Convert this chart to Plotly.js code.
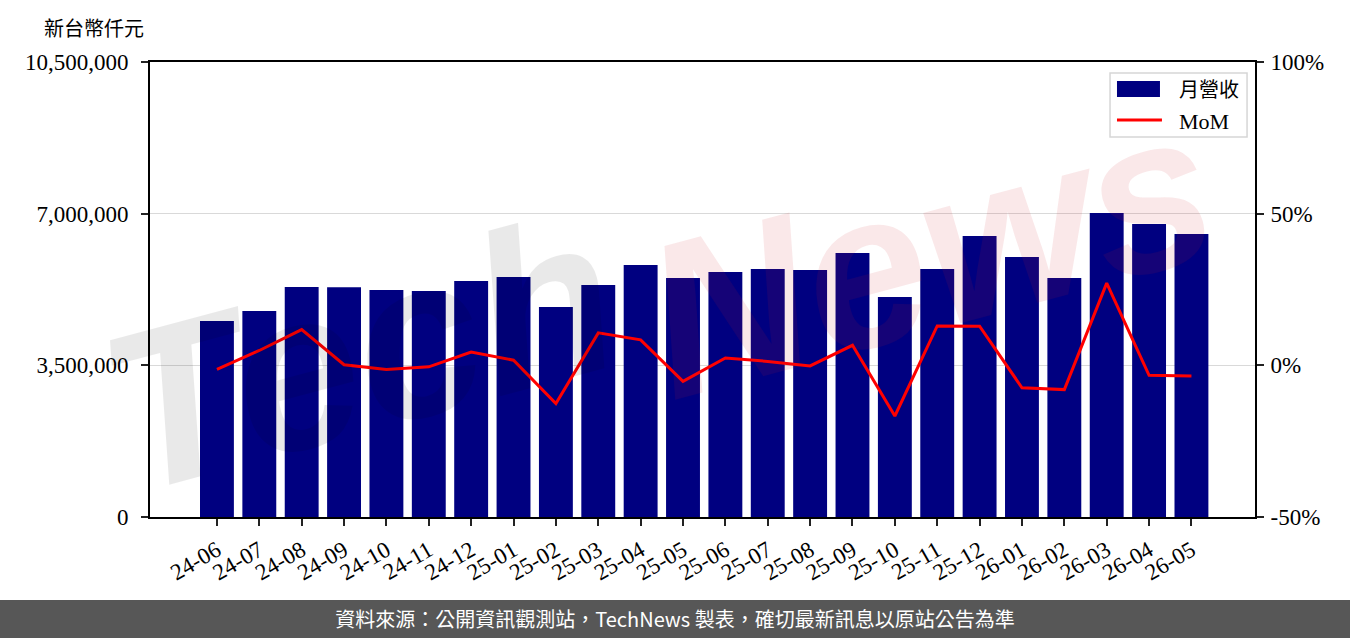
<!DOCTYPE html>
<html>
<head>
<meta charset="utf-8">
<script src="https://cdn.plot.ly/plotly-3.0.1.min.js"></script>
<style>
html,body{margin:0;padding:0;background:#fff;}
#chart{width:1350px;height:600px;}
#footer{width:1350px;height:38px;background:#575757;color:#fff;font-family:"Noto Sans CJK TC","Noto Sans",sans-serif;font-size:20px;line-height:38px;text-align:center;}
</style>
</head>
<body>
<div id="chart"></div>
<div id="footer">資料來源：公開資訊觀測站，TechNews 製表，確切最新訊息以原站公告為準</div>
<script>
const months = ["24-06","24-07","24-08","24-09","24-10","24-11","24-12","25-01","25-02","25-03","25-04","25-05","25-06","25-07","25-08","25-09","25-10","25-11","25-12","26-01","26-02","26-03","26-04","26-05"];
const revenue = [4523000,4754000,5308000,5300000,5238000,5215000,5446000,5538000,4846000,5354000,5815000,5515000,5654000,5723000,5700000,6092000,5077000,5723000,6485000,6000000,5515000,7015000,6762000,6531000];
const mom = [-1.3,4.9,11.8,0.2,-1.4,-0.5,4.4,1.7,-12.6,10.7,8.4,-5.3,2.4,1.3,-0.2,6.6,-16.7,13.0,12.9,-7.4,-8.0,27.1,-3.3,-3.5];
const leftTicks = [0,3500000,7000000,10500000];
const leftTickText = ["0","3,500,000","7,000,000","10,500,000"];
const rightTicks = [-50,0,50,100];
const rightTickText = ["-50%","0%","50%","100%"];
const seriesNames = ["月營收","MoM"];
const barColor = "#000080";
const lineColor = "#ff0000";

const serif = "Liberation Serif, DejaVu Serif, serif";
const data = [
  {type:"bar", x:months, y:revenue, name:seriesNames[0], marker:{color:barColor}, width:0.8, yaxis:"y", showlegend:false},
  {type:"scatter", mode:"lines", x:months, y:mom, name:seriesNames[1], line:{color:lineColor, width:3}, yaxis:"y2", showlegend:false}
];
const axisCommon = {showline:true, linecolor:"#000", linewidth:2, ticks:"outside", ticklen:7, tickwidth:2, tickcolor:"#222", tickfont:{family:serif, size:23, color:"#000"}};
const layout = {
  width:1350, height:600,
  margin:{l:150, r:95, t:62, b:83},
  paper_bgcolor:"#fff", plot_bgcolor:"#fff",
  font:{family:serif, size:20, color:"#000"},
  showlegend:false,
  xaxis:Object.assign({}, axisCommon, {type:"category", range:[-1.58,24.5], mirror:true, tickangle:-30, showgrid:false, ticklabelstandoff:2}),
  yaxis:Object.assign({}, axisCommon, {range:[0,10500000], tickvals:leftTicks, ticktext:leftTickText, mirror:true, showgrid:true, gridcolor:"#d9d9d9", gridwidth:1.5, zeroline:false, ticklabelstandoff:8}),
  yaxis2:Object.assign({}, axisCommon, {overlaying:"y", side:"right", range:[-50,100], tickvals:rightTicks, ticktext:rightTickText, showgrid:false, zeroline:false, ticklabelstandoff:2}),
  shapes:[
    {type:"rect", xref:"paper", yref:"paper", x0:0.8688, x1:0.9928, y0:0.8352, y1:0.9758, line:{color:"#d6d6d6", width:1.5}, fillcolor:"rgba(255,255,255,0.85)", layer:"above"},
    {type:"rect", xref:"paper", yref:"paper", x0:0.8751, x1:0.9140, y0:0.9231, y1:0.9582, line:{width:0}, fillcolor:barColor, layer:"above"},
    {type:"line", xref:"paper", yref:"paper", x0:0.8751, x1:0.9158, y0:0.8725, y1:0.8725, line:{color:lineColor, width:3}, layer:"above"}
  ],
  annotations:[
    {xref:"paper", yref:"paper", x:-0.0507, y:1.0758, xanchor:"center", yanchor:"middle", text:"新台幣仟元", showarrow:false, font:{family:"Noto Sans CJK TC, sans-serif", size:20, color:"#000"}},
    {xref:"paper", yref:"paper", x:0.9294, y:0.9407, xanchor:"left", yanchor:"middle", text:seriesNames[0], showarrow:false, font:{family:"Noto Sans CJK TC, sans-serif", size:20, color:"#000"}},
    {xref:"paper", yref:"paper", x:0.9294, y:0.8703, xanchor:"left", yanchor:"middle", text:seriesNames[1], showarrow:false, font:{family:serif, size:22, color:"#000"}},
    {xref:"paper", yref:"paper", x:0.19, y:0.36, xanchor:"center", yanchor:"middle", text:"<b><i>Tech</i></b>", showarrow:false, textangle:-15, font:{family:"Liberation Sans Narrow, Liberation Sans", size:225, color:"rgba(0,0,0,0.085)"}},
    {xref:"paper", yref:"paper", x:0.705, y:0.58, xanchor:"center", yanchor:"middle", text:"<b><i>News</i></b>", showarrow:false, textangle:-15, font:{family:"Liberation Sans Narrow, Liberation Sans", size:220, color:"rgba(210,30,40,0.1)"}}
  ]
};
Plotly.newPlot("chart", data, layout, {displayModeBar:false, staticPlot:true});
</script>
</body>
</html>
